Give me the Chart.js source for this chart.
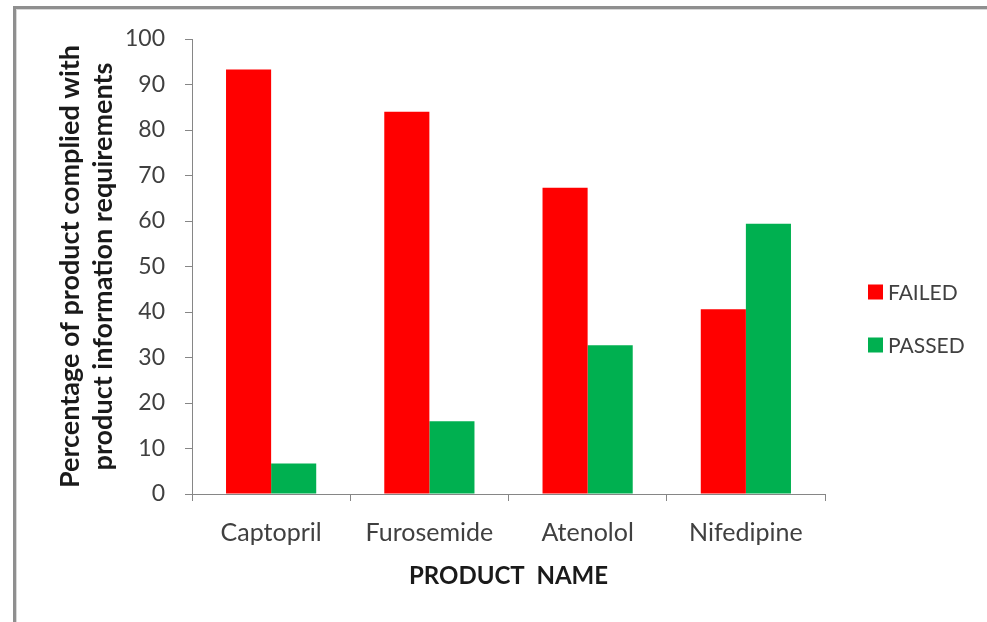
<!DOCTYPE html>
<html>
<head>
<meta charset="utf-8">
<script src="https://cdn.jsdelivr.net/npm/chart.js@4.4.1/dist/chart.umd.min.js"></script>
<style>
  html, body { margin: 0; padding: 0; background: #ffffff; }
  #wrap { position: relative; width: 987px; height: 622px; overflow: hidden; }
  #frame {
    position: absolute; left: 13px; top: 6px; width: 1200px; height: 900px;
    border-left: 3px solid #8f8f8f; border-top: 3px solid #8f8f8f;
    box-shadow: inset 1px 1px 0 #d8d8d8;
  }
  canvas { position: absolute; left: 0; top: 0; }
</style>
</head>
<body>
<div id="wrap">
  <div id="frame"></div>
  <canvas id="chart" width="987" height="622"></canvas>
</div>
<script>
// Products and compliance percentages
const products = ['Captopril', 'Furosemide', 'Atenolol', 'Nifedipine'];
const failed = [93.3, 84.0, 67.3, 40.6];
const passed = [6.7, 16.0, 32.7, 59.4];
const seriesNames = ['FAILED', 'PASSED'];
const yTicks = [0, 10, 20, 30, 40, 50, 60, 70, 80, 90, 100];

const RED = '#ff0000';
const GREEN = '#00b050';
const AXIS = '#868686';
const TEXT = '#404040';
const FONT = 'Lato, "Open Sans", sans-serif';

// Legend drawn to the right of the plot area
const sideLegend = {
  id: 'sideLegend',
  afterDraw(chart) {
    const ctx = chart.ctx;
    const area = chart.chartArea;
    ctx.save();
    ctx.font = '21px ' + FONT;
    ctx.textBaseline = 'middle';
    ctx.textAlign = 'left';
    chart.data.datasets.forEach((ds, i) => {
      const cy = 292 + i * 53;
      const bx = area.right + 43;
      ctx.fillStyle = ds.backgroundColor;
      ctx.fillRect(bx, cy - 7.5, 15, 15);
      ctx.fillStyle = TEXT;
      ctx.fillText(ds.label, bx + 20, cy + 1);
    });
    ctx.restore();
  }
};

new Chart(document.getElementById('chart'), {
  type: 'bar',
  data: {
    labels: products,
    datasets: [
      { label: seriesNames[0], data: failed, backgroundColor: RED },
      { label: seriesNames[1], data: passed, backgroundColor: GREEN }
    ]
  },
  options: {
    responsive: false,
    animation: false,
    devicePixelRatio: 1,
    layout: { padding: { left: 0, top: 39, right: 162, bottom: 0 } },
    datasets: { bar: { categoryPercentage: 0.57, barPercentage: 1.0 } },
    plugins: {
      legend: { display: false },
      tooltip: { enabled: false }
    },
    scales: {
      x: {
        afterFit(scale) { scale.height = 128; },
        grid: { display: true, offset: true, drawOnChartArea: false, tickLength: 7, color: AXIS, lineWidth: 1 },
        border: { display: true, color: AXIS, width: 1 },
        ticks: { color: TEXT, font: { family: FONT, size: 25 }, padding: 17 },
        title: {
          display: true, text: 'PRODUCT  NAME', color: '#1a1a1a',
          font: { family: FONT, size: 24, weight: 'bold' }, padding: { top: 0, bottom: 31 }
        }
      },
      y: {
        min: 0, max: 100,
        afterFit(scale) { scale.width = 192; },
        afterBuildTicks(scale) { scale.ticks = yTicks.map(v => ({ value: v })); },
        grid: { display: true, drawOnChartArea: false, tickLength: 7, color: AXIS, lineWidth: 1 },
        border: { display: true, color: AXIS, width: 1 },
        ticks: { color: TEXT, font: { family: FONT, size: 23 }, padding: 20 },
        title: {
          display: true,
          text: ['Percentage of product complied with', 'product information requirements'],
          color: '#1a1a1a',
          font: { family: FONT, size: 27, weight: 'bold', lineHeight: 1.22 },
          padding: { top: 54, bottom: 0 }
        }
      }
    }
  },
  plugins: [sideLegend]
});
</script>
</body>
</html>
